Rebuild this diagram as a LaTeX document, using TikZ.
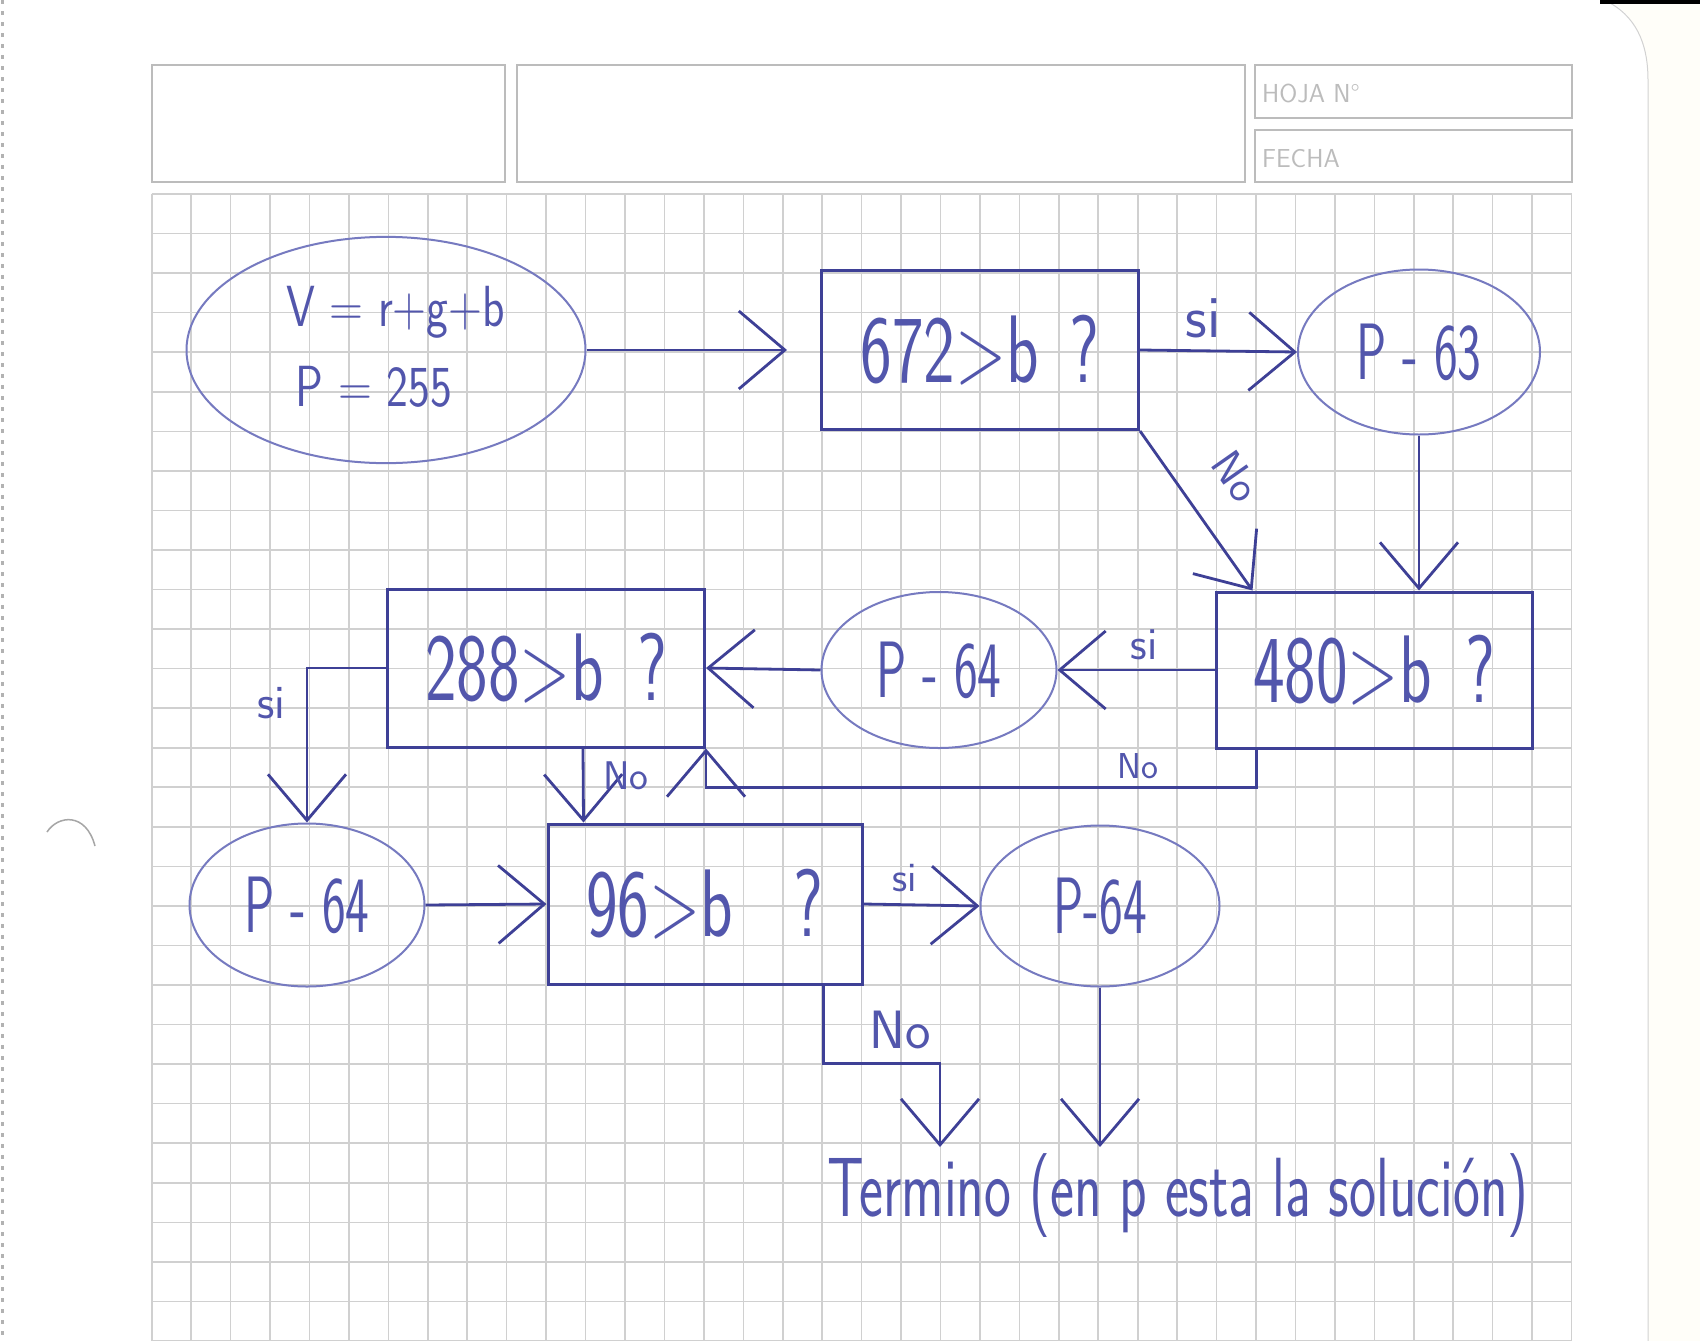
\documentclass[tikz,border=0pt]{standalone}
\usepackage{fontspec}
\usepackage{graphicx}
\usetikzlibrary{arrows.meta,shapes.geometric,positioning}

\definecolor{tinta}{RGB}{62,64,150}
\definecolor{tintaclara}{RGB}{118,122,192}
\definecolor{letra}{RGB}{82,86,172}
\definecolor{cuadricula}{RGB}{208,208,208}
\definecolor{membrete}{RGB}{188,188,188}
\definecolor{papel}{RGB}{255,254,249}

% letra de mano: angosta
\newcommand{\hw}[2][0.8]{\scalebox{#1}[1]{#2}}

\tikzset{
  caja/.style={draw=tinta, line width=3pt, inner sep=0pt, text=letra,
    font=\sffamily\fontsize{96}{100}\selectfont},
  ovalo/.style={ellipse, draw=tintaclara, line width=2pt, inner sep=0pt, text=letra,
    font=\sffamily\fontsize{80}{84}\selectfont},
  flecha/.style={draw=tinta, line width=2.8pt,
    -{Straight Barb[length=46pt,width=78pt,line width=2.8pt]}},
  etiqueta/.style={text=letra, inner sep=0pt, font=\sffamily\fontsize{#1}{#1}\selectfont},
  etiqueta/.default=44,
}

\begin{document}
\begin{tikzpicture}[x=1pt,y=-1pt]
  \useasboundingbox (0,0) rectangle (1700,1341);
  \fill[white] (0,0) rectangle (1700,1341);

  % borde de la hoja escaneada
  \fill[papel] (1610,0) .. controls (1640,20) and (1648,50) .. (1648,80) -- (1648,1341) -- (1700,1341) -- (1700,0) -- cycle;
  \draw[gray!35, line width=1pt] (1610,3) .. controls (1640,20) and (1648,50) .. (1648,80) -- (1648,1341);
  \fill[black] (1600,0) rectangle (1700,4);
  \draw[gray!60, line width=3pt, dash pattern=on 4pt off 7pt] (2,0) -- (2,1341);
  \draw[gray!70, line width=1.5pt] (47,832) .. controls (58,815) and (86,812) .. (95,846);

  % membrete
  \draw[membrete, line width=1.6pt] (152,65) rectangle (505,182);
  \draw[membrete, line width=1.6pt] (517,65) rectangle (1245,182);
  \draw[membrete, line width=1.6pt] (1255,65) rectangle (1572,118);
  \draw[membrete, line width=1.6pt] (1255,130) rectangle (1572,182);
  \node[anchor=west, text=membrete, inner sep=0pt, font=\sffamily\fontsize{26}{26}\selectfont] (hoja) at (1262,93) {HOJA N°};
  \node[anchor=west, text=membrete, inner sep=0pt, font=\sffamily\fontsize{26}{26}\selectfont] (fecha) at (1262,159) {FECHA};

  % cuadricula
  \foreach \i in {0,...,36}
    \draw[cuadricula, line width=1.6pt] ({151.7+\i*39.44},194) -- ({151.7+\i*39.44},1341);
  \foreach \j in {0,...,29}
    \draw[cuadricula, line width=1.6pt] (151.7,{194+\j*39.55}) -- (1571.7,{194+\j*39.55});

  % diagrama
  \node[ovalo, minimum width=399pt, minimum height=200pt, font=\sffamily\fontsize{58}{80}\selectfont] (inicio) at (386,350)
    {\hw{\begin{tabular}{@{}l@{}}\hspace{24pt}V = r+g+b\\\hspace{36pt}P = 255\end{tabular}}};
  \node[caja, minimum width=317pt, minimum height=159pt] (c672) at (980,350) {\hw[0.7]{672>b\hspace{0.45em}?}};
  \node[ovalo, minimum width=242pt, minimum height=165pt] (p63) at (1419,352) {\hw[0.63]{P - 63}};
  \node[caja, minimum width=316pt, minimum height=156pt] (c480) at (1374,670) {\hw[0.7]{480>b\hspace{0.5em}?}};
  \node[ovalo, minimum width=235pt, minimum height=156pt] (p64a) at (939,670) {\hw[0.63]{P - 64}};
  \node[caja, minimum width=317pt, minimum height=158pt] (c288) at (546,668) {\hw[0.7]{288>b\hspace{0.5em}?}};
  \node[ovalo, minimum width=235pt, minimum height=163pt] (p64b) at (307,905) {\hw[0.63]{P - 64}};
  \node[caja, minimum width=314pt, minimum height=160pt] (c96) at (705,904) {\hw[0.7]{96>b\hspace{0.9em}?}};
  \node[ovalo, minimum width=239pt, minimum height=161pt] (p64c) at (1100,906) {\hw[0.63]{P-64}};
  \node[etiqueta=84] (fin) at (1178,1196) {\hw[0.68]{Termino (en p esta la solución)}};
  \coordinate (finNo) at (940,1147);

  \draw[flecha, shorten >=33pt] (inicio.east) -- (c672.west);
  \draw[flecha] (c672.east) -- (p63.west);
  \draw[flecha] (p63.south) -- (p63.south |- c480.north);
  \draw[flecha] (c672.south east) -- ([xshift=38pt]c480.north west);
  \draw[flecha] (c480.west) -- (p64a.east);
  \draw[flecha] (p64a.west) -- (c288.east);
  \draw[flecha] ([xshift=42pt]c480.south west) -- ++(0,38) -| (c288.south east);
  \draw[flecha] (c288.west) -| (p64b.north);
  \draw[flecha] ([xshift=197pt]c288.south west) -- ([xshift=37pt]c96.north west);
  \draw[flecha] (p64b.east) -- (c96.west);
  \draw[flecha] (c96.east) -- (p64c.west);
  \draw[flecha] ([xshift=-40pt]c96.south east) -- ++(0,78) -| (finNo);
  \draw[flecha] (p64c.south) -- (p64c.south |- finNo);

  % si / no
  \node[etiqueta=60] (si1) at (1203,318) {si};
  \node[etiqueta=44, rotate=-55] (no1) at (1236,476) {No};
  \node[etiqueta=46] (si2) at (1144,645) {si};
  \node[etiqueta=36] (no2) at (1138,766) {No};
  \node[etiqueta=48] (si3) at (271,703) {si};
  \node[etiqueta=40] (no3) at (626,776) {No};
  \node[etiqueta=42] (si4) at (905,878) {si};
  \node[etiqueta=54] (no4) at (900,1030) {No};
\end{tikzpicture}
\end{document}
